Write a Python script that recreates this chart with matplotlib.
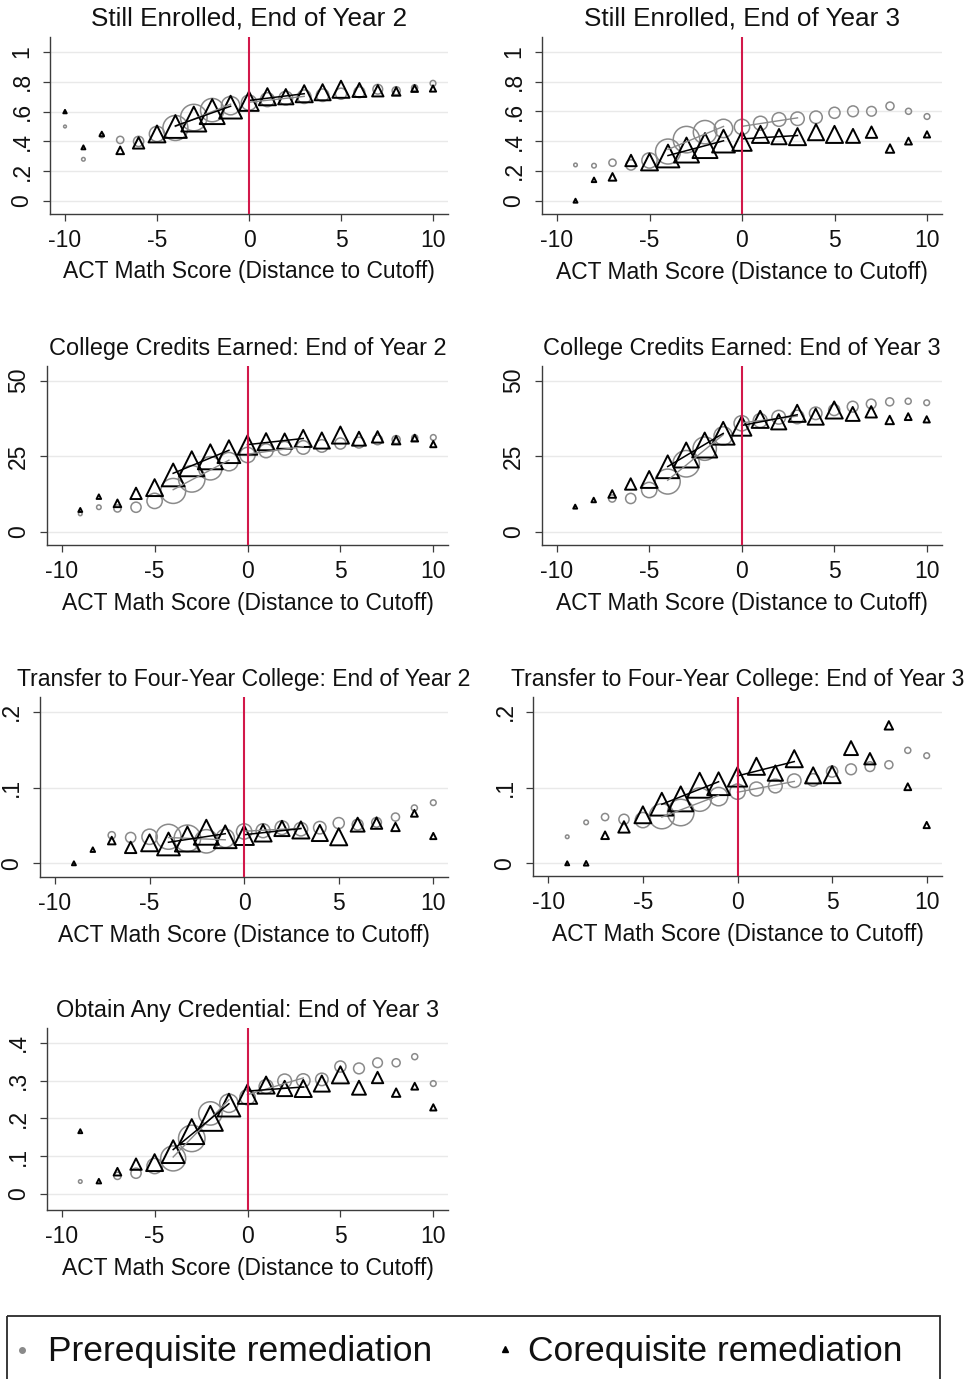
import numpy as np
import matplotlib
matplotlib.use('Agg')
import matplotlib.pyplot as plt
from matplotlib.patches import Rectangle

plt.rcParams['font.family'] = ['Liberation Sans', 'DejaVu Sans']

W, H = 969, 1379
nan = np.nan

# distance to cutoff (ACT math score bins)
x = np.arange(-10, 11)

# approximate number of students per bin (sets marker area)
n_pre = [6, 10, 16, 40, 80, 180, 480, 540, 420, 260, 180,
         150, 145, 140, 120, 95, 90, 72, 50, 28, 25]
n_co = [9, 12, 16, 45, 100, 220, 400, 480, 480, 400, 290,
        225, 180, 225, 200, 225, 150, 100, 55, 36, 30]

titles = ["Still Enrolled, End of Year 2",
          "Still Enrolled, End of Year 3",
          "College Credits Earned: End of Year 2",
          "College Credits Earned: End of Year 3",
          "Transfer to Four-Year College: End of Year 2",
          "Transfer to Four-Year College: End of Year 3",
          "Obtain Any Credential: End of Year 3"]

enroll2_pre = [0.50, 0.28, 0.44, 0.41, 0.40, 0.45, 0.49, 0.56, 0.61, 0.64, 0.66,
               0.68, 0.69, 0.70, 0.71, 0.72, 0.73, 0.75, 0.74, 0.76, 0.79]
enroll2_co = [0.60, 0.36, 0.45, 0.34, 0.39, 0.45, 0.50, 0.55, 0.60, 0.63, 0.67,
              0.70, 0.70, 0.72, 0.73, 0.75, 0.745, 0.74, 0.735, 0.755, 0.755]

enroll3_pre = [nan, 0.24, 0.235, 0.255, 0.24, 0.27, 0.33, 0.41, 0.46, 0.485, 0.495,
               0.52, 0.545, 0.55, 0.56, 0.59, 0.60, 0.60, 0.635, 0.60, 0.565]
enroll3_co = [nan, 0.0, 0.14, 0.16, 0.27, 0.26, 0.30, 0.34, 0.37, 0.40, 0.40,
              0.445, 0.43, 0.43, 0.46, 0.445, 0.435, 0.46, 0.35, 0.40, 0.445]

credits2_pre = [nan, 5.9, 8.1, 7.7, 8.1, 10.2, 13.5, 17.5, 21.0, 23.2, 25.4,
                26.8, 27.6, 27.9, 28.4, 29.2, 29.5, 30.4, 30.5, 31.1, 31.2]
credits2_co = [nan, 7.2, 11.6, 9.4, 12.7, 14.6, 18.8, 22.5, 24.8, 26.5, 28.7,
               29.8, 30.0, 30.9, 30.2, 32.0, 30.8, 31.4, 30.3, 31.0, 29.0]

credits3_pre = [nan, nan, nan, 11.0, 11.0, 13.8, 16.6, 22.5, 27.5, 31.7, 35.9,
                36.8, 37.9, 38.0, 39.2, 40.3, 41.4, 42.3, 43.0, 43.2, 42.7]
credits3_co = [nan, 8.3, 10.5, 12.5, 15.8, 17.3, 21.5, 25.4, 28.7, 32.6, 35.0,
               37.2, 36.4, 39.2, 38.1, 40.3, 39.0, 39.7, 37.0, 38.1, 37.2]

transfer2_pre = [nan, nan, nan, 0.037, 0.034, 0.035, 0.035, 0.033, 0.029, 0.033, 0.042,
                 0.043, 0.047, 0.045, 0.047, 0.053, 0.051, 0.054, 0.061, 0.073, 0.080]
transfer2_co = [nan, 0.0, 0.018, 0.030, 0.021, 0.027, 0.0255, 0.032, 0.041, 0.035, 0.037,
                0.040, 0.046, 0.044, 0.040, 0.035, 0.051, 0.053, 0.048, 0.066, 0.036]

transfer3_pre = [nan, 0.035, 0.054, 0.061, 0.058, 0.057, 0.062, 0.067, 0.084, 0.088, 0.0945,
                 0.098, 0.102, 0.109, 0.110, 0.121, 0.124, 0.1275, 0.130, 0.149, 0.142]
transfer3_co = [nan, 0.0, 0.0, 0.037, 0.048, 0.064, 0.078, 0.085, 0.103, 0.105, 0.114,
                0.128, 0.119, 0.138, 0.116, 0.117, 0.152, 0.138, 0.182, 0.101, 0.0505]

cred3_pre = [nan, 0.033, nan, 0.048, 0.055, 0.074, 0.094, 0.147, 0.213, 0.24, 0.256,
             0.284, 0.299, 0.30, 0.303, 0.337, 0.332, 0.347, 0.347, 0.363, 0.292]
cred3_co = [nan, 0.166, 0.034, 0.059, 0.079, 0.083, 0.112, 0.165, 0.200, 0.235, 0.264,
            0.288, 0.279, 0.279, 0.292, 0.315, 0.281, 0.308, 0.268, 0.285, 0.229]

series = [(enroll2_pre, enroll2_co), (enroll3_pre, enroll3_co),
          (credits2_pre, credits2_co), (credits3_pre, credits3_co),
          (transfer2_pre, transfer2_co), (transfer3_pre, transfer3_co),
          (cred3_pre, cred3_co)]

yticks = [[0, .2, .4, .6, .8, 1], [0, .2, .4, .6, .8, 1],
          [0, 25, 50], [0, 25, 50],
          [0, .1, .2], [0, .1, .2],
          [0, .1, .2, .3, .4]]

title_sizes = [18.8, 18.8, 16.9, 16.9, 16.6, 16.6, 16.9]

# pixel layout: (px at x=-10, px at x=10), (px at y lo, px at y hi, lo, hi), top, bottom
layout = [((65, 433), (201, 52, 0, 1), 37, 213.5),
          ((557, 927), (200.7, 51.7, 0, 1), 37, 214),
          ((61.7, 433.3), (531.7, 380.7, 0, 50), 366, 545),
          ((556.7, 926.7), (531.7, 380.7, 0, 50), 366, 545),
          ((55, 433.3), (863.3, 711.7, 0, 0.2), 697, 877),
          ((548.3, 926.7), (863.3, 711.7, 0, 0.2), 697, 876),
          ((61.7, 433.3), (1194, 1042.7, 0, 0.4), 1028, 1210)]

PRE_COL = '#8a8a8a'
CO_COL = 'black'
RED = '#d2184a'
AX_COL = '#3c3c3c'
PX2PT = 0.72
SIZE_K = 1.3


def fmt(v):
    s = f"{v:g}"
    if s.startswith('0.'):
        s = s[1:]
    return s


def fitline(ax, y, lo, hi, color, lw):
    y = np.asarray(y, dtype=float)
    m = (x >= lo) & (x <= hi) & ~np.isnan(y)
    b = np.polyfit(x[m], y[m], 1)
    xs = np.array([lo, hi])
    ax.plot(xs, np.polyval(b, xs), color=color, lw=lw, zorder=4)


fig = plt.figure(figsize=(W / 100, H / 100), dpi=100)

for i in range(7):
    (xa, xb), (ylo_px, yhi_px, vlo, vhi), top, bottom = layout[i]
    ux = (xb - xa) / 20
    left, right = xa - 0.8 * ux, xb + 0.8 * ux
    uy = (ylo_px - yhi_px) / (vhi - vlo)
    ymin = vlo - (bottom - ylo_px) / uy
    ymax = vlo + (ylo_px - top) / uy
    ax = fig.add_axes([left / W, 1 - bottom / H, (right - left) / W, (bottom - top) / H])
    ax.set_xlim(-10.8, 10.8)
    ax.set_ylim(ymin, ymax)

    pre, co = series[i]
    ax.scatter(x, pre, s=np.array(n_pre) * PX2PT ** 2 * SIZE_K, marker='o', facecolors='none',
               edgecolors=PRE_COL, linewidths=1.1, zorder=3)
    ax.scatter(x, co, s=np.array(n_co) * PX2PT ** 2 * SIZE_K, marker='^', facecolors='none',
               edgecolors=CO_COL, linewidths=1.4, zorder=3)
    fitline(ax, pre, -4, -1, PRE_COL, 1.0)
    fitline(ax, pre, 0, 3, PRE_COL, 1.0)
    fitline(ax, co, -4, -1, CO_COL, 1.1)
    fitline(ax, co, 0, 3, CO_COL, 1.1)
    ax.axvline(0, color=RED, lw=1.5, zorder=5)

    ax.set_yticks(yticks[i])
    ax.set_yticklabels([fmt(v) for v in yticks[i]], rotation=90, va='center')
    ax.set_xticks([-10, -5, 0, 5, 10])
    ax.set_xticklabels(['-10', '-5', '0', '5', '10'])
    ax.grid(axis='y', color='#e9e9e9', lw=1.0, zorder=0)
    ax.set_axisbelow(True)
    for sp in ['top', 'right']:
        ax.spines[sp].set_visible(False)
    for sp in ['left', 'bottom']:
        ax.spines[sp].set_color(AX_COL)
        ax.spines[sp].set_linewidth(1.0)
    ax.tick_params(axis='both', colors=AX_COL, labelcolor='#111111', length=5, width=0.9,
                   labelsize=16.5)
    ax.tick_params(axis='y', pad=7)
    ax.tick_params(axis='x', pad=6)
    ax.set_xlabel("ACT Math Score (Distance to Cutoff)", fontsize=16.5, labelpad=6, color='#111111')
    ax.set_title(titles[i], fontsize=title_sizes[i], pad=8, color='#111111')

# legend box
leg = fig.add_axes([0, 0, 1, 1])
leg.set_xlim(0, W)
leg.set_ylim(H, 0)
leg.axis('off')
leg.add_patch(Rectangle((7, 1316), 933, 100, fill=False, edgecolor='#2a2a2a', lw=1.3))
leg.plot([22], [1350], marker='o', ms=4, color=PRE_COL, ls='none')
leg.plot([505], [1349], marker='^', ms=5, color=CO_COL, ls='none')
leg.text(48, 1351, "Prerequisite remediation", fontsize=25.5, va='center', ha='left', color='#111111')
leg.text(528, 1351, "Corequisite remediation", fontsize=25.5, va='center', ha='left', color='#111111')

fig.savefig('out.png', dpi=100)
